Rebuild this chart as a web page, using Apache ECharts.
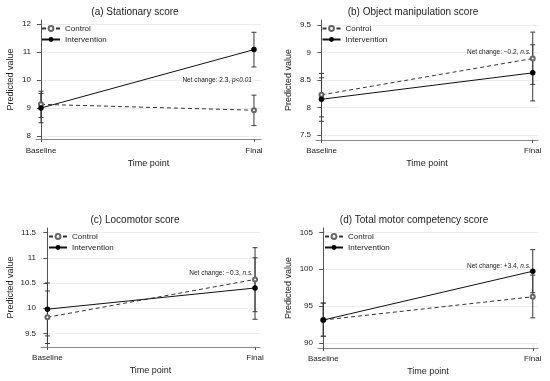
<!DOCTYPE html>
<html><head><meta charset="utf-8">
<script src="https://cdn.jsdelivr.net/npm/echarts@6/dist/echarts.min.js"></script>
<style>html,body{margin:0;padding:0;background:#fff}#c{width:550px;height:381px}</style>
</head><body><div id="c"></div>
<script>
const categories = ['Baseline', 'Final'];
const seriesNames = ['Control', 'Intervention'];
const titles = ['(a) Stationary score', '(b) Object manipulation score', '(c) Locomotor score', '(d) Total motor competency score'];
const xName = 'Time point';
const yName = 'Predicted value';

// panel (a)
const aControl = [9.13, 8.92], aControlLo = [8.66, 8.37], aControlHi = [9.60, 9.46];
const aInterv = [9.00, 11.09], aIntervLo = [8.47, 10.47], aIntervHi = [9.52, 11.71];
const aTicks = [8, 9, 10, 11, 12];
// panel (b)
const bControl = [8.23, 8.89], bControlLo = [7.83, 8.42], bControlHi = [8.62, 9.37];
const bInterv = [8.15, 8.63], bIntervLo = [7.75, 8.12], bIntervHi = [8.54, 9.14];
const bTicks = [7.5, 8, 8.5, 9, 9.5];
// panel (c)
const cControl = [9.82, 10.57], cControlLo = [9.30, 9.93], cControlHi = [10.34, 11.20];
const cInterv = [9.98, 10.40], cIntervLo = [9.45, 9.78], cIntervHi = [10.50, 11.00];
const cTicks = [9.5, 10, 10.5, 11, 11.5];
// panel (d)
const dControl = [93.1, 96.26], dControlLo = [90.9, 93.4], dControlHi = [95.4, 99.2];
const dInterv = [93.1, 99.73], dIntervLo = [90.9, 96.8], dIntervHi = [95.4, 102.66];
const dTicks = [90, 95, 100, 105];

// net change annotations
const noteText = ['Net change: 2.3, ', 'Net change: \u22120.2, ', 'Net change: \u22120.3, ', 'Net change: +3.4, '];
const noteTag = ['p<0.01', 'n.s.', 'n.s.', 'n.s.'];
const noteY = [10.0, 9.0, 10.69, 100.45];

const panels = [
  {c: aControl, cl: aControlLo, ch: aControlHi, i: aInterv, il: aIntervLo, ih: aIntervHi, ticks: aTicks,
   grid: {left: 36, top: 20, width: 225, height: 119}, xr: [-0.0235, 1.033], yr: [7.89, 12.15],
   title: [130, 2], ynameGap: 21, xlabM: 8, xnameGap: 20, leg: [41, 24.5]},
  {c: bControl, cl: bControlLo, ch: bControlHi, i: bInterv, il: bIntervLo, ih: bIntervHi, ticks: bTicks,
   grid: {left: 316, top: 20, width: 222, height: 120}, xr: [-0.026, 1.025], yr: [7.41, 9.59],
   title: [408, 2], ynameGap: 23, xlabM: 7, xnameGap: 19, leg: [321.5, 24.5]},
  {c: cControl, cl: cControlLo, ch: cControlHi, i: cInterv, il: cIntervLo, ih: cIntervHi, ticks: cTicks,
   grid: {left: 41, top: 228, width: 219, height: 119}, xr: [-0.031, 1.024], yr: [9.23, 11.59],
   title: [130, 210], ynameGap: 26, xlabM: 7, xnameGap: 19, leg: [48, 232.5]},
  {c: dControl, cl: dControlLo, ch: dControlHi, i: dInterv, il: dIntervLo, ih: dIntervHi, ticks: dTicks,
   grid: {left: 318, top: 228, width: 220, height: 120}, xr: [-0.025, 1.025], yr: [89.3, 105.6],
   title: [409, 210], ynameGap: 24.5, xlabM: 7, xnameGap: 19, leg: [324, 232.5]}
];

const FONT = 'Liberation Sans';
const axisCol = '#555';
const option = {
  animation: false,
  backgroundColor: '#fff',
  textStyle: {fontFamily: FONT},
  title: [], grid: [], xAxis: [], yAxis: [], series: [], legend: []
};

function errBars(lo, hi) {
  return lo.map((v, k) => [k, v, hi[k]]);
}
function renderErr(params, api) {
  const x = api.value(0);
  const p1 = api.coord([x, api.value(1)]);
  const p2 = api.coord([x, api.value(2)]);
  const w = 2.5;
  const st = {stroke: '#3a3a3a', lineWidth: 1};
  return {type: 'group', children: [
    {type: 'line', shape: {x1: p1[0], y1: p1[1], x2: p2[0], y2: p2[1]}, style: st},
    {type: 'line', shape: {x1: p1[0] - w, y1: p1[1], x2: p1[0] + w, y2: p1[1]}, style: st},
    {type: 'line', shape: {x1: p2[0] - w, y1: p2[1], x2: p2[0] + w, y2: p2[1]}, style: st}
  ]};
}

panels.forEach((p, k) => {
  option.title.push({text: titles[k], left: p.title[0], top: p.title[1], textAlign: 'center',
    textStyle: {fontSize: 10, fontWeight: 'normal', color: '#222', fontFamily: FONT}});
  option.grid.push(Object.assign({containLabel: false}, p.grid));
  option.xAxis.push({type: 'value', gridIndex: k, min: p.xr[0], max: p.xr[1],
    name: xName, nameLocation: 'middle', nameGap: p.xnameGap,
    nameTextStyle: {fontSize: 9, color: '#222', fontFamily: FONT},
    axisLine: {show: true, lineStyle: {color: '#888', width: 1}},
    axisTick: {show: true, inside: false, length: 3, customValues: [0, 1], lineStyle: {color: axisCol}},
    axisLabel: {customValues: [0, 1], formatter: v => categories[Math.round(v)], fontSize: 8, color: '#222', margin: p.xlabM, fontFamily: FONT},
    splitLine: {show: false}});
  option.yAxis.push({type: 'value', gridIndex: k, min: p.yr[0], max: p.yr[1],
    name: yName, nameLocation: 'middle', nameGap: p.ynameGap,
    nameTextStyle: {fontSize: 9, color: '#222', fontFamily: FONT},
    axisLine: {show: true, lineStyle: {color: axisCol, width: 1}},
    axisTick: {show: true, inside: false, length: 4, customValues: p.ticks, lineStyle: {color: axisCol}},
    axisLabel: {customValues: p.ticks, fontSize: 8, color: '#222', margin: 5, fontFamily: FONT},
    splitLine: {show: true, lineStyle: {color: '#ececec', width: 1}}});
  option.legend.push({orient: 'vertical', left: p.leg[0], top: p.leg[1], padding: 0,
    data: seriesNames, itemWidth: 18, itemHeight: 6, itemGap: 3,
    textStyle: {fontSize: 8, color: '#222', fontFamily: FONT}, selectedMode: false});
  option.series.push({type: 'custom', xAxisIndex: k, yAxisIndex: k, renderItem: renderErr,
    data: errBars(p.cl, p.ch), silent: true, z: 1});
  option.series.push({type: 'custom', xAxisIndex: k, yAxisIndex: k, renderItem: renderErr,
    data: errBars(p.il, p.ih), silent: true, z: 1});
  option.series.push({name: seriesNames[0], type: 'line', xAxisIndex: k, yAxisIndex: k,
    data: p.c.map((v, j) => [j, v]), symbol: 'emptyCircle', symbolSize: 4,
    lineStyle: {color: '#333', width: 1, type: [4, 3]}, itemStyle: {color: '#666', borderColor: '#666', borderWidth: 1},
    z: 3});
  option.series.push({name: seriesNames[1], type: 'line', xAxisIndex: k, yAxisIndex: k,
    data: p.i.map((v, j) => [j, v]), symbol: 'circle', symbolSize: 5.5,
    lineStyle: {color: '#111', width: 1}, itemStyle: {color: '#000'},
    z: 4,
    markPoint: {symbol: 'circle', symbolSize: 0, silent: true,
      data: [{coord: [1, noteY[k]], label: {show: true, position: 'left', distance: 2,
        formatter: '{n|' + noteText[k] + '}{i|' + noteTag[k] + '}',
        rich: {n: {fontSize: 6.5, color: '#222', fontFamily: FONT}, i: {fontSize: 6.5, color: '#222', fontStyle: 'italic', fontFamily: FONT}}}}]}});
});

const chart = echarts.init(document.getElementById('c'), null, {renderer: 'canvas'});
chart.setOption(option);
</script></body></html>
